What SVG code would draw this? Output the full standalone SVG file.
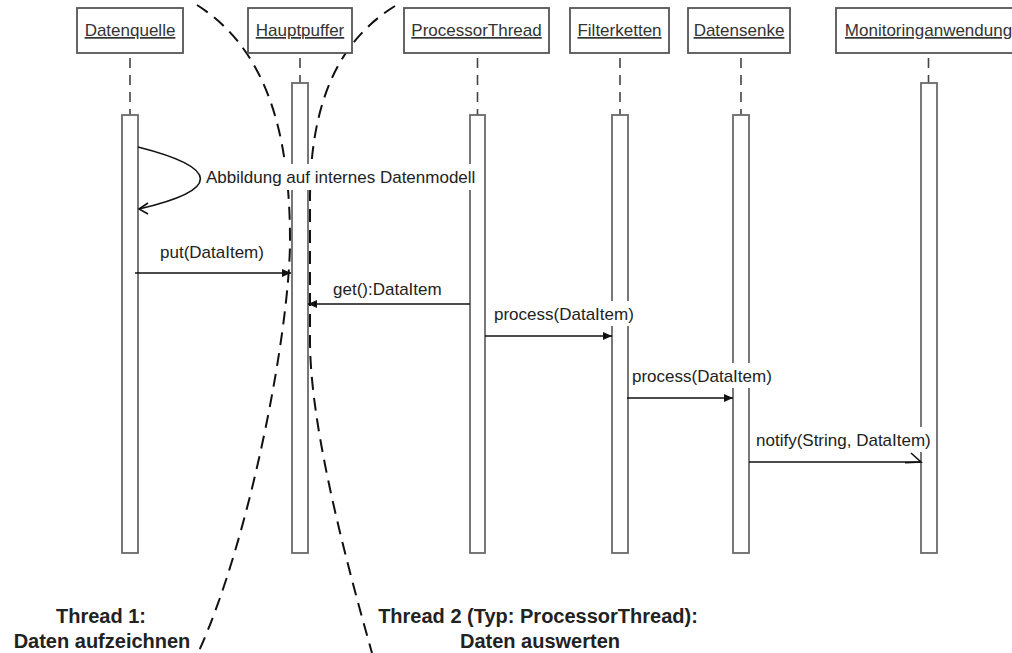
<svg xmlns="http://www.w3.org/2000/svg" width="1012" height="653" viewBox="0 0 1012 653">
  <style>
    .head { fill: #fff; stroke: #555; stroke-width: 1.8; }
    .head-text { font-family: "Liberation Sans", Arial, sans-serif; font-size: 17px; fill: #333; text-anchor: middle; text-decoration: underline; }
    .life { stroke: #444; stroke-width: 1.6; stroke-dasharray: 10 7; fill: none; }
    .act { fill: #fff; stroke: #6a6a6a; stroke-width: 1.8; }
    .msg { stroke: #111; stroke-width: 1.6; fill: none; }
    .lbl { font-family: "Liberation Sans", Arial, sans-serif; font-size: 17px; fill: #222; }
    .lbl-bg { fill: #fff; stroke: none; }
    .bound { stroke: #111; stroke-width: 2; stroke-dasharray: 13 8; fill: none; }
    .thread { font-family: "Liberation Sans", Arial, sans-serif; font-size: 20px; font-weight: bold; fill: #222; text-anchor: middle; }
  </style>
  <defs>
    <marker id="filled" markerUnits="userSpaceOnUse" markerWidth="9" markerHeight="8" refX="9" refY="4" orient="auto">
      <path d="M0,0 L9,4 L0,8 z" fill="#111"/>
    </marker>
  </defs>

  <rect width="1012" height="653" fill="#fff"/>

  <!-- thread boundaries (hourglass around the main buffer) -->
  <g id="thread-boundaries">
    <path class="bound" d="M197,5 C260,45 290,120 290,240 C290,330 250,540 198,653"/>
    <path class="bound" d="M395,6 C340,40 310,100 310,200 L310,340 C310,420 340,540 372,653"/>
  </g>

  <!-- lifelines -->
  <g id="Datenquelle">
    <line class="life" x1="130" y1="58" x2="130" y2="115"/>
    <rect class="head" x="77" y="8" width="106" height="45"/>
    <text class="head-text" x="130" y="36">Datenquelle</text>
    <rect class="act" x="122" y="115" width="16" height="438"/>
  </g>
  <g id="Hauptpuffer">
    <line class="life" x1="300" y1="58" x2="300" y2="83"/>
    <rect class="head" x="248" y="8" width="104" height="45"/>
    <text class="head-text" x="300" y="36">Hauptpuffer</text>
    <rect class="act" x="292" y="83" width="16" height="470"/>
  </g>
  <g id="ProcessorThread">
    <line class="life" x1="477.5" y1="58" x2="477.5" y2="115"/>
    <rect class="head" x="404" y="8" width="145" height="45"/>
    <text class="head-text" x="476.5" y="36">ProcessorThread</text>
    <rect class="act" x="470" y="115" width="15" height="438"/>
  </g>
  <g id="Filterketten">
    <line class="life" x1="620" y1="58" x2="620" y2="115"/>
    <rect class="head" x="570" y="8" width="99" height="45"/>
    <text class="head-text" x="619.5" y="36">Filterketten</text>
    <rect class="act" x="612" y="115" width="16" height="438"/>
  </g>
  <g id="Datensenke">
    <line class="life" x1="741" y1="58" x2="741" y2="115"/>
    <rect class="head" x="688" y="8" width="102" height="45"/>
    <text class="head-text" x="739" y="36">Datensenke</text>
    <rect class="act" x="733" y="115" width="16" height="438"/>
  </g>
  <g id="Monitoringanwendung">
    <line class="life" x1="928.5" y1="58" x2="928.5" y2="83"/>
    <rect class="head" x="836" y="8" width="185" height="45"/>
    <text class="head-text" x="928.5" y="36">Monitoringanwendung</text>
    <rect class="act" x="921" y="83" width="16" height="470"/>
  </g>

  <!-- messages -->
  <g id="connectors">
    <!-- self call on Datenquelle -->
    <path class="msg" d="M138,147 C221,168 221,190 139,209" stroke-width="2"/>
    <path class="msg" d="M148,203 L139,209 L148,214"/>
    <rect class="lbl-bg" x="204" y="164" width="276" height="26"/>
    <text class="lbl" x="206" y="183">Abbildung auf internes Datenmodell</text>

    <!-- put -->
    <line class="msg" x1="135" y1="273" x2="291" y2="273" marker-end="url(#filled)"/>
    <rect class="lbl-bg" x="158" y="239" width="108" height="25"/>
    <text class="lbl" x="160" y="258">put(DataItem)</text>

    <!-- get -->
    <line class="msg" x1="470" y1="304" x2="308" y2="304" marker-end="url(#filled)"/>
    <rect class="lbl-bg" x="331" y="276" width="113" height="25"/>
    <text class="lbl" x="333" y="295">get():DataItem</text>

    <!-- process to Filterketten -->
    <line class="msg" x1="485" y1="336" x2="612" y2="336" marker-end="url(#filled)"/>
    <rect class="lbl-bg" x="492" y="301" width="145" height="25"/>
    <text class="lbl" x="494" y="320">process(DataItem)</text>

    <!-- process to Datensenke -->
    <line class="msg" x1="627" y1="398" x2="733" y2="398" marker-end="url(#filled)"/>
    <rect class="lbl-bg" x="630" y="363" width="145" height="25"/>
    <text class="lbl" x="632" y="382">process(DataItem)</text>

    <!-- notify to Monitoringanwendung -->
    <line class="msg" x1="749" y1="462" x2="921" y2="462"/>
    <path class="msg" d="M911,453 L921,462 L905,462.8" stroke-width="2"/>
    <rect class="lbl-bg" x="754" y="427" width="180" height="25"/>
    <text class="lbl" x="756" y="446">notify(String, DataItem)</text>
  </g>

  <!-- thread captions -->
  <g id="captions">
    <text class="thread" x="101" y="623">Thread 1:</text>
    <text class="thread" x="102" y="648">Daten aufzeichnen</text>
    <text class="thread" x="538" y="623">Thread 2 (Typ: ProcessorThread):</text>
    <text class="thread" x="540" y="648">Daten auswerten</text>
  </g>
</svg>
